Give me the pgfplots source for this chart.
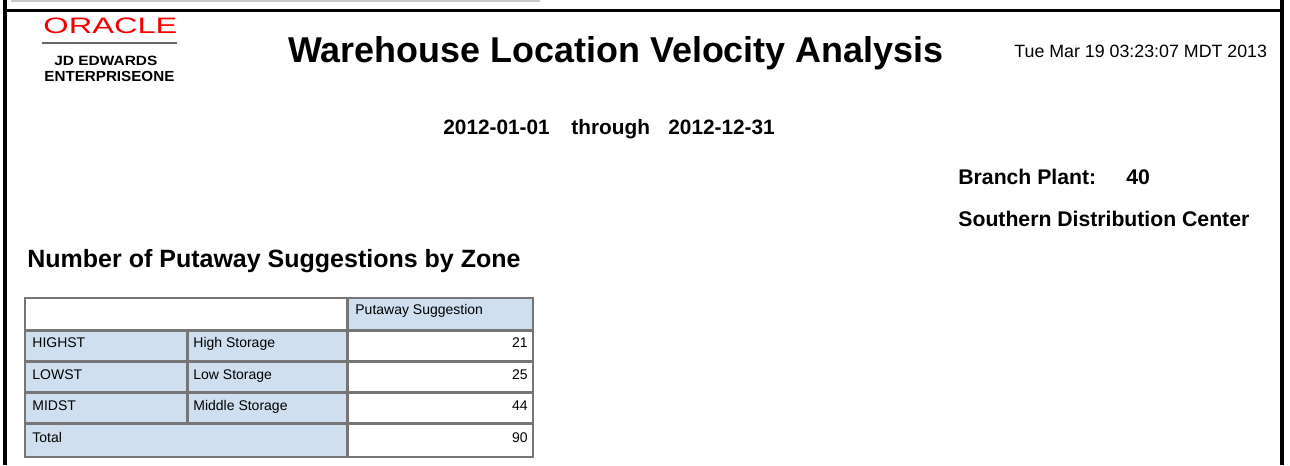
\documentclass[border=0pt]{standalone}
\usepackage{pgfplots}
\pgfplotsset{compat=1.18}
\usepackage{fontspec}
\setmainfont{Liberation Sans}
\definecolor{oraclered}{RGB}{245,0,0}
\definecolor{cellblue}{RGB}{207,223,239}
\definecolor{cellgray}{RGB}{118,118,118}
\definecolor{topgray}{RGB}{200,200,200}
\begin{document}
\begin{tikzpicture}
\begin{axis}[scale only axis, width=645pt, height=232.5pt,
  xmin=0, xmax=1290, ymin=0, ymax=465, y dir=reverse,
  hide axis, clip=false]
% page background and frame
\fill[white] (0,0) rectangle (1290,465);
\draw[topgray, line width=1.2pt] (11,1) -- (540,1);
\fill[black] (3,0) rectangle (7,465);
\fill[black] (1280,0) rectangle (1284,465);
\fill[black] (3,9) rectangle (1284,12);
% logo
\node[anchor=base west, inner sep=0pt, text=oraclered] at (43,33.5)
  {\resizebox{67pt}{7.8pt}{ORACLE}};
\draw[gray!80!black, line width=0.7pt] (42,43) -- (177,43);
\node[anchor=base west, inner sep=0pt] at (54,65.5)
  {\resizebox{51.5pt}{4.7pt}{\bfseries JD EDWARDS}};
\node[anchor=base west, inner sep=0pt] at (44,81.5)
  {\resizebox{65pt}{5.1pt}{\bfseries ENTERPRISEONE}};
% titles
\node[anchor=base west, inner sep=0pt, font=\bfseries\fontsize{17.95}{20}\selectfont] at (288,62)
  {Warehouse Location Velocity Analysis};
\node[anchor=base west, inner sep=0pt, font=\fontsize{8.9}{10}\selectfont] at (1014,57)
  {Tue Mar 19 03:23:07 MDT 2013};
\node[anchor=base west, inner sep=0pt, font=\bfseries\fontsize{10.4}{12}\selectfont] at (443,134) {2012-01-01};
\node[anchor=base west, inner sep=0pt, font=\bfseries\fontsize{10.4}{12}\selectfont] at (571,134) {through};
\node[anchor=base west, inner sep=0pt, font=\bfseries\fontsize{10.4}{12}\selectfont] at (668,134) {2012-12-31};
\node[anchor=base west, inner sep=0pt, font=\bfseries\fontsize{10.6}{12}\selectfont] at (958,184) {Branch Plant:};
\node[anchor=base west, inner sep=0pt, font=\bfseries\fontsize{10.6}{12}\selectfont] at (1126,184) {40};
\node[anchor=base west, inner sep=0pt, font=\bfseries\fontsize{10.6}{12}\selectfont] at (958,226) {Southern Distribution Center};
\node[anchor=base west, inner sep=0pt, font=\bfseries\fontsize{12.5}{14}\selectfont] at (27,267)
  {Number of Putaway Suggestions by Zone};
% table
\fill[cellgray] (24,297) rectangle (534,458);
\fill[white]    (26,299)    rectangle (345.5,328.5);
\fill[cellblue] (348.5,299) rectangle (532,328.5);
\fill[cellblue] (26,331.5)    rectangle (185.5,359.5);
\fill[cellblue] (188.5,331.5) rectangle (345.5,359.5);
\fill[white]    (348.5,331.5) rectangle (532,359.5);
\fill[cellblue] (26,362.5)    rectangle (185.5,390.5);
\fill[cellblue] (188.5,362.5) rectangle (345.5,390.5);
\fill[white]    (348.5,362.5) rectangle (532,390.5);
\fill[cellblue] (26,393.5)    rectangle (185.5,421.5);
\fill[cellblue] (188.5,393.5) rectangle (345.5,421.5);
\fill[white]    (348.5,393.5) rectangle (532,421.5);
\fill[cellblue] (26,424.5)    rectangle (345.5,455.5);
\fill[white]    (348.5,424.5) rectangle (532,455.5);
\node[anchor=base west, inner sep=0pt, font=\fontsize{7}{8}\selectfont] at (355,314) {Putaway Suggestion};
\node[anchor=base west, inner sep=0pt, font=\fontsize{7}{8}\selectfont] at (32,347) {HIGHST};
\node[anchor=base west, inner sep=0pt, font=\fontsize{7}{8}\selectfont] at (193,347) {High Storage};
\node[anchor=base west, inner sep=0pt, font=\fontsize{7}{8}\selectfont] at (32,379) {LOWST};
\node[anchor=base west, inner sep=0pt, font=\fontsize{7}{8}\selectfont] at (193,379) {Low Storage};
\node[anchor=base west, inner sep=0pt, font=\fontsize{7}{8}\selectfont] at (32,410) {MIDST};
\node[anchor=base west, inner sep=0pt, font=\fontsize{7}{8}\selectfont] at (193,410) {Middle Storage};
\node[anchor=base west, inner sep=0pt, font=\fontsize{7}{8}\selectfont] at (32,442) {Total};
\addplot[draw=none, mark=none, point meta=explicit symbolic,
  nodes near coords,
  every node near coord/.append style={anchor=base east, inner sep=0pt, font=\fontsize{7}{8}\selectfont}]
  coordinates {(528,347) [21] (528,379) [25] (528,410) [44] (528,442) [90]};
\end{axis}
\end{tikzpicture}
\end{document}
